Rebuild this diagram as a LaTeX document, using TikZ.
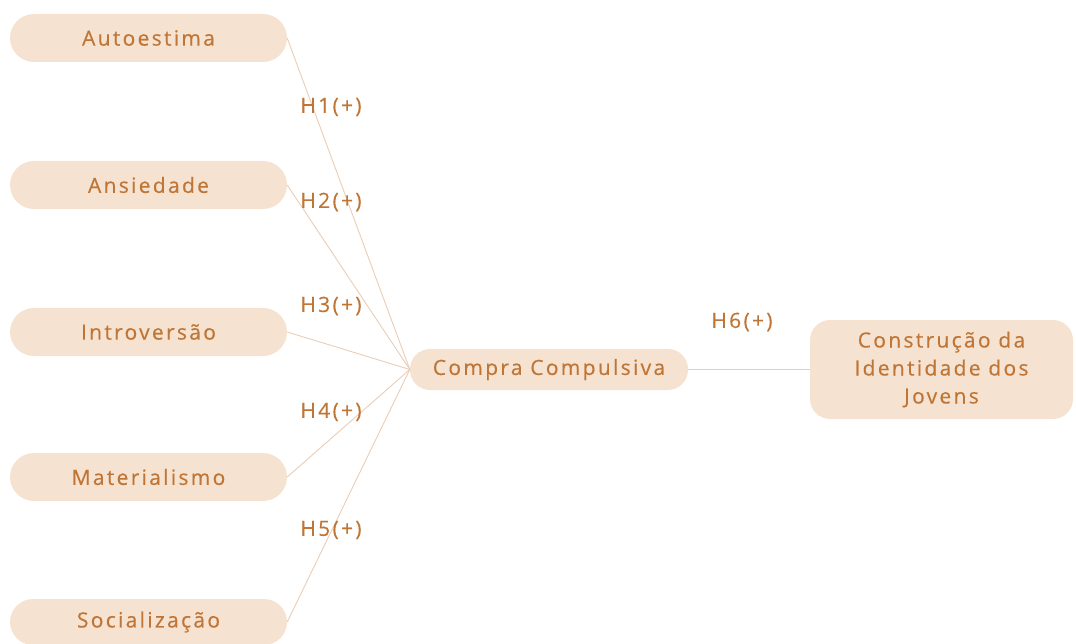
\documentclass[tikz,border=0pt]{standalone}
\usepackage{fontspec}
\setmainfont{Open Sans}[LetterSpace=11, FakeBold=0.4]
\definecolor{boxfill}{HTML}{F6E2D0}
\definecolor{boxtext}{HTML}{BF7535}
\definecolor{linec}{HTML}{EACDB6}
\tikzset{
  var/.style={draw=none, fill=boxfill, rounded corners=24pt, minimum width=277pt, minimum height=48pt, inner sep=0pt, text=boxtext, font=\fontsize{21}{25}\selectfont},
  mid/.style={var, minimum width=278pt, minimum height=41pt, rounded corners=20pt},
  outc/.style={var, minimum width=263pt, minimum height=99pt, rounded corners=20pt, align=center, font=\fontsize{21}{28}\selectfont},
  hyp/.style={text=boxtext, font=\fontsize{21}{25}\selectfont, inner sep=0pt},
  conn/.style={draw=linec, line width=0.9pt}
}
\begin{document}
\begin{tikzpicture}[x=1pt,y=-1pt]
\useasboundingbox (0,0) rectangle (1076,644);
\node[var] (a) at (148.5,38) {Autoestima};
\node[var] (b) at (148.5,185) {Ansiedade};
\node[var] (c) at (148.5,332) {Introversão};
\node[var] (d) at (148.5,477) {Materialismo};
\node[var, minimum height=46pt, rounded corners=23pt] (e) at (148.5,622) {Socialização};
\node[mid] (m) at (549,369.5) {Compra Compulsiva};
\node[outc] (o) at (941.5,369.5) {Construção da\\Identidade dos\\Jovens};
\draw[conn] (a.east) -- (m.west);
\draw[conn] (b.east) -- (m.west);
\draw[conn] (c.east) -- (m.west);
\draw[conn] (d.east) -- (m.west);
\draw[conn] (e.east) -- (m.west);
\draw[conn] (m.east) -- (o.west);
\node[hyp] (h1) at (331,107) {H1(+)};
\node[hyp] (h2) at (331,202) {H2(+)};
\node[hyp] (h3) at (331,306) {H3(+)};
\node[hyp] (h4) at (331,412) {H4(+)};
\node[hyp] (h5) at (331,530) {H5(+)};
\node[hyp] (h6) at (742,322) {H6(+)};
\end{tikzpicture}
\end{document}
